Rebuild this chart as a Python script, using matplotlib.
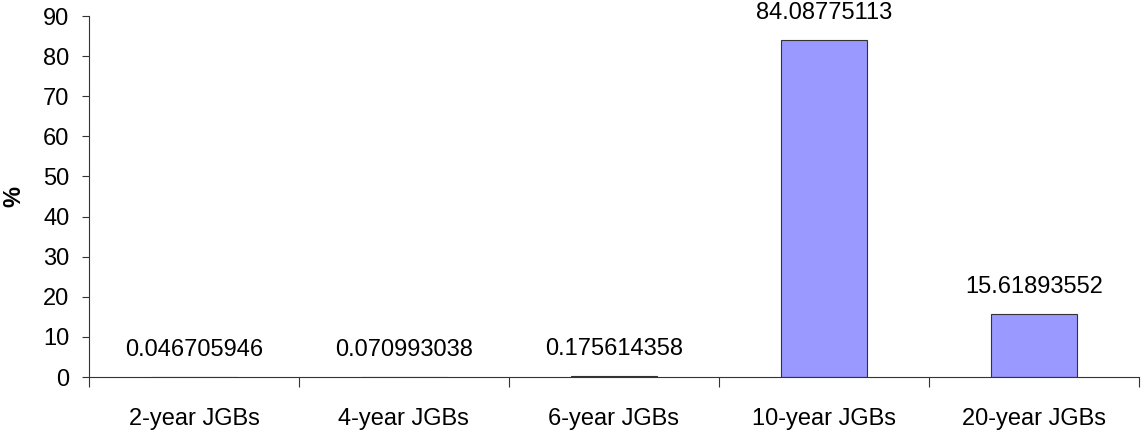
import matplotlib
matplotlib.use('Agg')
import matplotlib.pyplot as plt
import numpy as np

plt.rcParams['font.family'] = ['Liberation Sans', 'DejaVu Sans']

categories = ['2-year JGBs', '4-year JGBs', '6-year JGBs', '10-year JGBs', '20-year JGBs']
shares = [0.046705946, 0.070993038, 0.175614358, 84.08775113, 15.61893552]
share_labels = ['0.046705946', '0.070993038', '0.175614358', '84.08775113', '15.61893552']

fs = 17

fig = plt.figure(figsize=(11.41, 4.33), dpi=100)
ax = fig.add_axes([0.078, 0.1293, 0.920, 0.8337])

x = np.arange(len(categories))
bars = ax.bar(x, shares, width=0.41, color='#9999FF', edgecolor='#333333', linewidth=0.8)

# value labels sit a fixed distance above each bar
for xi, v, lab in zip(x, shares, share_labels):
    ax.annotate(lab, (xi, v), xytext=(0, 27), textcoords='offset pixels',
                ha='center', va='center', fontsize=fs)

ax.set_xlim(-0.5, len(categories) - 0.5)
ax.set_ylim(0, 90)
ax.set_yticks(np.arange(0, 91, 10))
ax.set_xticks(np.arange(-0.5, len(categories), 1.0))
ax.set_xticklabels([])
ax.set_xticks(x, minor=True)
ax.set_xticklabels(categories, minor=True, fontsize=fs)
ax.tick_params(axis='x', which='minor', length=0, pad=22)
ax.tick_params(axis='x', which='major', length=7, width=0.8, color='#333333')
ax.tick_params(axis='y', length=5, width=0.8, color='#333333', labelsize=fs, pad=9)

for side in ['top', 'right']:
    ax.spines[side].set_visible(False)
for side in ['left', 'bottom']:
    ax.spines[side].set_color('#333333')
    ax.spines[side].set_linewidth(0.8)

ax.set_ylabel('%', fontsize=fs, fontweight='bold')
ax.yaxis.set_label_coords(-0.0605, 0.5)

fig.savefig('out.png', dpi=100)
